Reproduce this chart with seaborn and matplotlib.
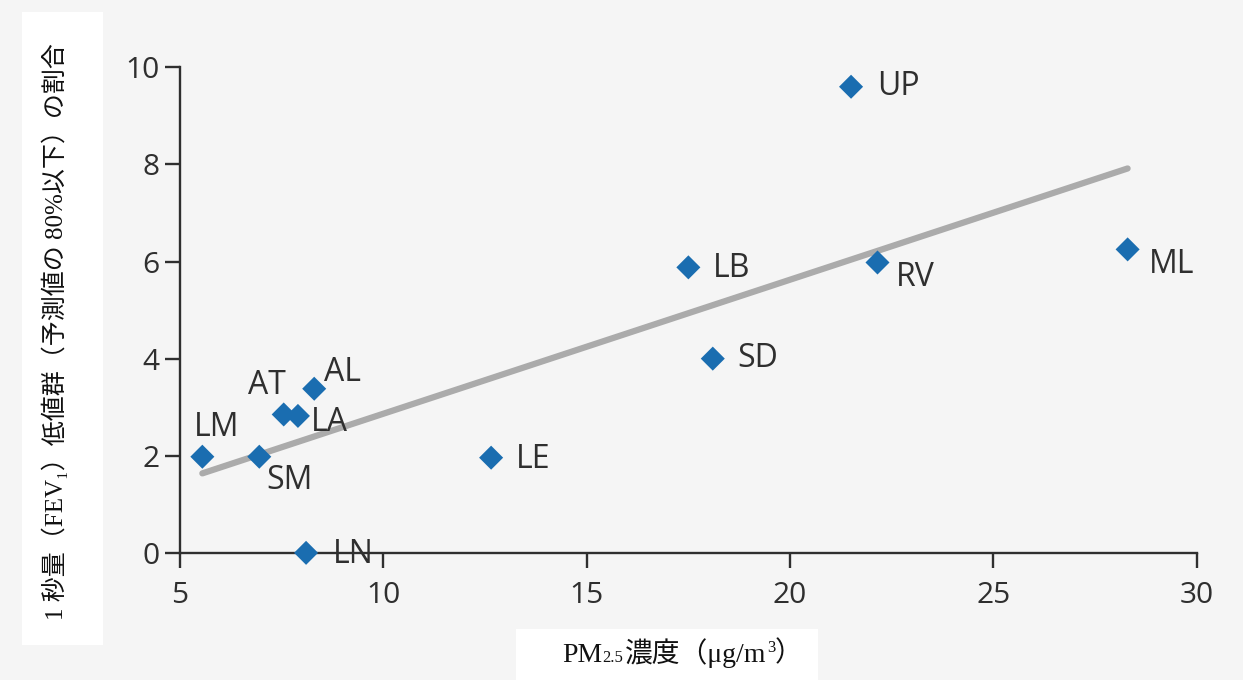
import numpy as np
import pandas as pd
import matplotlib
matplotlib.use("Agg")
import matplotlib.pyplot as plt
import seaborn as sns
from matplotlib.patches import Rectangle

# --- Data --- #
sites = ["UP", "ML", "RV", "LB", "SD", "LE", "AL", "AT", "LA", "LM", "SM", "LN"]
pm25 = [21.5, 28.3, 22.15, 17.5, 18.1, 12.65, 8.3, 7.55, 7.9, 5.55, 6.95, 8.1]
fev_low = [9.6, 6.25, 5.98, 5.88, 4.0, 1.96, 3.38, 2.85, 2.82, 1.98, 1.98, 0.0]
xticks = [5, 10, 15, 20, 25, 30]
yticks = [0, 2, 4, 6, 8, 10]

df = pd.DataFrame({"site": sites, "pm25": pm25, "fev": fev_low})

# label offsets (points) and alignment for each site
label_pos = {
    "UP": (19, 0, "left", "center"),
    "ML": (15, -11, "left", "center"),
    "RV": (13, -11, "left", "center"),
    "LB": (18, -1, "left", "center"),
    "SD": (18, 0, "left", "center"),
    "LE": (18, -1, "left", "center"),
    "AL": (7, 12, "left", "center"),
    "AT": (-12, 21, "center", "center"),
    "LA": (9, -5, "left", "center"),
    "LM": (10, 21, "center", "center"),
    "SM": (22, -17, "center", "center"),
    "LN": (19, -1, "left", "center"),
}

# --- Style --- #
sns.set_style("ticks")
plt.rcParams["font.family"] = ["Open Sans", "DejaVu Sans"]
bg = "#f5f5f5"
dark = "#2f2f2f"
blue = "#1a6db0"

fig = plt.figure(figsize=(12.43, 6.8), dpi=100, facecolor=bg)
ax = fig.add_axes([0.1448, 0.187, 0.818, 0.714])
ax.set_facecolor(bg)

# regression line (OLS) and points
sns.regplot(data=df, x="pm25", y="fev", ax=ax, scatter=False, ci=None, truncate=True,
            line_kws=dict(color="#ababab", lw=4.5, solid_capstyle="round", zorder=2))
sns.scatterplot(data=df, x="pm25", y="fev", ax=ax, marker="D", s=150, color=blue,
                edgecolor="none", zorder=3, clip_on=False)

for s, x, y in zip(sites, pm25, fev_low):
    dx, dy, ha, va = label_pos[s]
    ax.annotate(s, (x, y), xytext=(dx, dy), textcoords="offset points",
                ha=ha, va=va, fontsize=23, color=dark, zorder=4)

ax.set_xlim(5, 30)
ax.set_ylim(0, 10)
ax.set_xticks(xticks)
ax.set_yticks(yticks)
ax.tick_params(axis="both", labelsize=21.5, colors=dark, length=11, width=1.7, direction="out")
ax.tick_params(axis="x", pad=9)
ax.tick_params(axis="y", pad=4)
for sp in ["top", "right"]:
    ax.spines[sp].set_visible(False)
for sp in ["left", "bottom"]:
    ax.spines[sp].set_color(dark)
    ax.spines[sp].set_linewidth(1.7)
ax.set_xlabel("")
ax.set_ylabel("")

# white label boxes
fig.patches.append(Rectangle((0.0177, 0.0515), 0.0652, 0.931, transform=fig.transFigure,
                             facecolor="white", edgecolor="none", zorder=0))
fig.patches.append(Rectangle((0.415, 0.0), 0.243, 0.075, transform=fig.transFigure,
                             facecolor="white", edgecolor="none", zorder=0))

mixed = ["Liberation Serif", "Noto Sans CJK JP", "DejaVu Sans"]
ink = "#111111"

# y label
fig.text(0.044, 0.512, "1 秒量（FEV₁）低値群（予測値の 80%以下）の割合", rotation=90,
         ha="center", va="center", fontsize=18, family=mixed, color=ink)

# x label built from pieces (subscript 2.5, superscript 3)
base = 0.027
fig.canvas.draw()
r = fig.canvas.get_renderer()
inv = fig.transFigure.inverted()
t1 = fig.text(0.452, base, "PM", fontsize=20, family=mixed, color=ink,
              ha="left", va="baseline")
x_end = t1.get_window_extent(r).transformed(inv).x1
t2 = fig.text(x_end, base, "2.5", fontsize=12, family=mixed, color=ink,
              ha="left", va="baseline")
x_end = t2.get_window_extent(r).transformed(inv).x1
t3 = fig.text(x_end + 0.002, base, "濃度（μg/m", fontsize=20, family=mixed,
              color=ink, ha="left", va="baseline")
x_end = t3.get_window_extent(r).transformed(inv).x1
t4 = fig.text(x_end, base + 0.014, "3", fontsize=12, family=mixed, color=ink,
              ha="left", va="baseline")
x_end = t4.get_window_extent(r).transformed(inv).x1
fig.text(x_end, base, "）", fontsize=20, family=mixed, color=ink,
         ha="left", va="baseline")

fig.savefig("out.png", dpi=100, facecolor=bg)
